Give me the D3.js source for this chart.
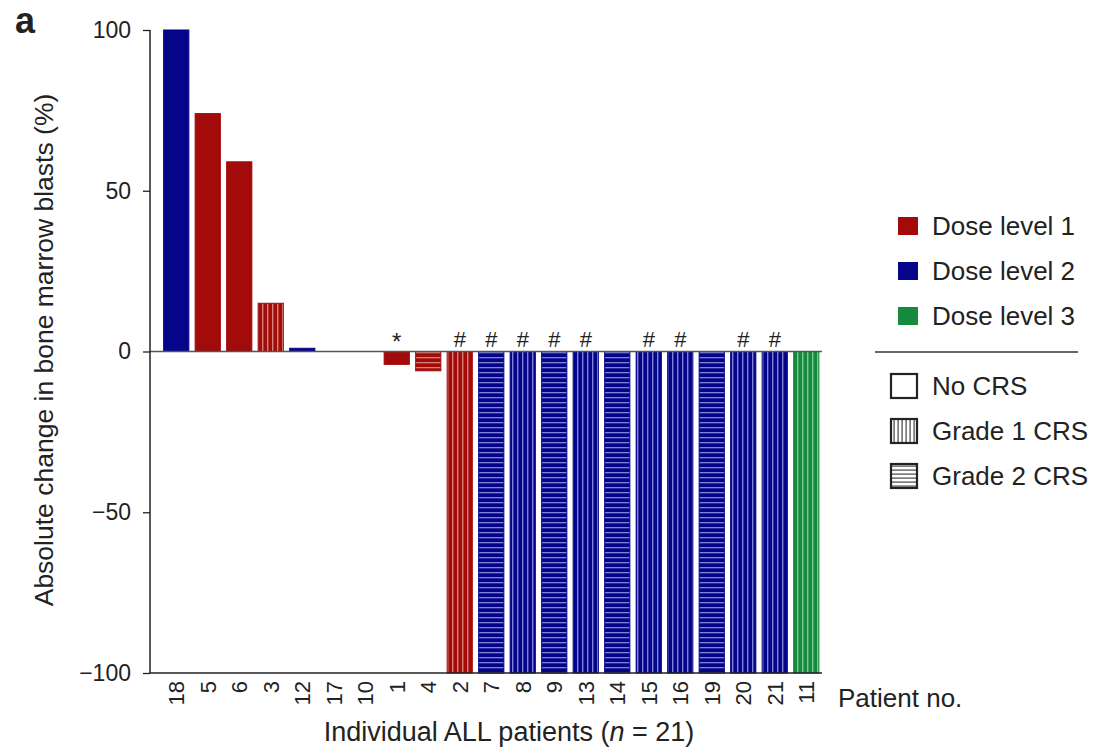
<!DOCTYPE html>
<html><head><meta charset="utf-8">
<script src="https://cdn.jsdelivr.net/npm/d3@7"></script>
<style>body{margin:0;background:#fff;} text{font-family:"Liberation Sans",Arial,sans-serif;fill:#222;}</style>
</head><body>
<svg id="c" width="1102" height="749"></svg>
<script>
const patients = ["18","5","6","3","12","17","10","1","4","2","7","8","9","13","14","15","16","19","20","21","11"];
const values   = [100, 74, 59, 15, 1, 0, 0, -4, -6, -100, -100, -100, -100, -100, -100, -100, -100, -100, -100, -100, -100];
const doseLevel= [2, 1, 1, 1, 2, 1, 1, 1, 1, 1, 2, 2, 2, 2, 2, 2, 2, 2, 2, 2, 3];
const crsGrade = [0, 0, 0, 1, 0, 0, 0, 0, 2, 1, 2, 1, 2, 1, 2, 1, 1, 2, 1, 1, 1];
const marks    = ["", "", "", "", "", "", "", "*", "", "#", "#", "#", "#", "#", "", "#", "#", "", "#", "#", ""];
const yTicks = [100, 50, 0, -50, -100];
const doseLabels = ["Dose level 1", "Dose level 2", "Dose level 3"];
const crsLabels = ["No CRS", "Grade 1 CRS", "Grade 2 CRS"];

const doseColor = {1: "#a30a0a", 2: "#05058a", 3: "#168a3c"};
const stripeColor = {1: "#e0a090", 2: "#a0a0e8", 3: "#90dca8"};

const svg = d3.select("#c");
const defs = svg.append("defs");
[1,2,3].forEach(d => {
  const pv = defs.append("pattern").attr("id", "v"+d).attr("patternUnits","userSpaceOnUse")
    .attr("width", 5).attr("height", 5);
  pv.append("rect").attr("width",5).attr("height",5).attr("fill", doseColor[d]);
  pv.append("rect").attr("x",2).attr("width",1.4).attr("height",5).attr("fill", stripeColor[d]).attr("opacity",0.8);
  const ph = defs.append("pattern").attr("id", "h"+d).attr("patternUnits","userSpaceOnUse")
    .attr("width", 5).attr("height", 5);
  ph.append("rect").attr("width",5).attr("height",5).attr("fill", doseColor[d]);
  ph.append("rect").attr("y",2).attr("height",1.3).attr("width",5).attr("fill", stripeColor[d]).attr("opacity",0.8);
});
const lp = defs.append("pattern").attr("id","lv").attr("patternUnits","userSpaceOnUse").attr("width",4).attr("height",4);
lp.append("rect").attr("width",4).attr("height",4).attr("fill","#fff");
lp.append("rect").attr("x",1.5).attr("width",1.2).attr("height",4).attr("fill","#444");
const lh = defs.append("pattern").attr("id","lh").attr("patternUnits","userSpaceOnUse").attr("width",4).attr("height",4);
lh.append("rect").attr("width",4).attr("height",4).attr("fill","#fff");
lh.append("rect").attr("y",1.5).attr("height",1.2).attr("width",4).attr("fill","#444");

const x = d3.scaleBand().domain(patients).range([160.5, 822]).paddingInner(0.2).paddingOuter(0.1);
const y = d3.scaleLinear().domain([-100, 100]).range([673, 30]);

function fillFor(i){
  const d = doseLevel[i], g = crsGrade[i];
  if (g === 0) return doseColor[d];
  return g === 1 ? "url(#v"+d+")" : "url(#h"+d+")";
}

svg.append("g").selectAll("rect").data(patients).join("rect")
  .attr("x", d => x(d))
  .attr("width", x.bandwidth())
  .attr("y", (d,i) => y(Math.max(0, values[i])))
  .attr("height", (d,i) => Math.abs(y(values[i]) - y(0)))
  .attr("fill", (d,i) => fillFor(i))
  .attr("stroke", (d,i) => values[i] === 0 ? "none" : doseColor[doseLevel[i]])
  .attr("stroke-width", 1);

svg.append("line").attr("x1", 150).attr("x2", 822).attr("y1", y(0)).attr("y2", y(0))
  .attr("stroke", "#555").attr("stroke-width", 1.5);

svg.append("g").selectAll("text").data(patients).join("text")
  .attr("x", d => x(d) + x.bandwidth()/2)
  .attr("y", (d,i) => marks[i] === "*" ? y(0) - 2 : y(0) - 5)
  .attr("text-anchor", "middle")
  .attr("font-size", (d,i) => marks[i] === "*" ? 24 : 22)
  .text((d,i) => marks[i]);

const yAxis = svg.append("g").attr("transform", "translate(150,0)")
  .call(d3.axisLeft(y).tickValues(yTicks).tickSize(7).tickPadding(12)
    .tickFormat(d => d < 0 ? "\u2212" + Math.abs(d) : d));
yAxis.select(".domain").attr("stroke", "#222").attr("stroke-width", 1.5).attr("d", "M0," + y(100) + "V" + y(-100));
yAxis.selectAll(".tick line").attr("stroke", "#222").attr("stroke-width", 1.3);
yAxis.selectAll(".tick text").attr("font-size", 23).attr("fill", "#222")
  .attr("font-family", "Liberation Sans, Arial, sans-serif");

svg.append("line").attr("x1", 150).attr("x2", 822).attr("y1", y(-100)).attr("y2", y(-100))
  .attr("stroke", "#222").attr("stroke-width", 1.5);

svg.append("g").selectAll("text").data(patients).join("text")
  .attr("transform", d => "translate(" + (x(d) + x.bandwidth()/2) + "," + 681 + ") rotate(-90)")
  .attr("text-anchor", "end")
  .attr("dy", "0.36em")
  .attr("font-size", 22)
  .text(d => d);

svg.append("text").attr("x", 838).attr("y", 707).attr("font-size", 26).text("Patient no.");

const xt = svg.append("text").attr("x", 509).attr("y", 741).attr("text-anchor", "middle").attr("font-size", 27);
xt.append("tspan").text("Individual ALL patients (");
xt.append("tspan").attr("font-style", "italic").text("n");
xt.append("tspan").text(" = 21)");

svg.append("text").attr("transform", "translate(53," + 350 + ") rotate(-90)")
  .attr("text-anchor", "middle").attr("font-size", 26.5)
  .text("Absolute change in bone marrow blasts (%)");

svg.append("text").attr("x", 15).attr("y", 33).attr("font-size", 36).attr("font-weight", "bold").text("a");

const lg = svg.append("g");
doseLabels.forEach((t, i) => {
  const yy = 226 + i * 45;
  lg.append("rect").attr("x", 898).attr("y", yy - 9).attr("width", 20).attr("height", 18).attr("fill", doseColor[i+1]);
  lg.append("text").attr("x", 932).attr("y", yy).attr("dy", "0.35em").attr("font-size", 26).text(t);
});
lg.append("line").attr("x1", 875).attr("x2", 1078).attr("y1", 352).attr("y2", 352).attr("stroke", "#333").attr("stroke-width", 1.5);
const crsFill = ["#fff", "url(#lv)", "url(#lh)"];
crsLabels.forEach((t, i) => {
  const yy = 386 + i * 45;
  lg.append("rect").attr("x", 891).attr("y", yy - 12).attr("width", 26).attr("height", 24)
    .attr("fill", crsFill[i]).attr("stroke", "#222").attr("stroke-width", 2.2);
  lg.append("text").attr("x", 932).attr("y", yy).attr("dy", "0.35em").attr("font-size", 26).text(t);
});
</script>
</body></html>
